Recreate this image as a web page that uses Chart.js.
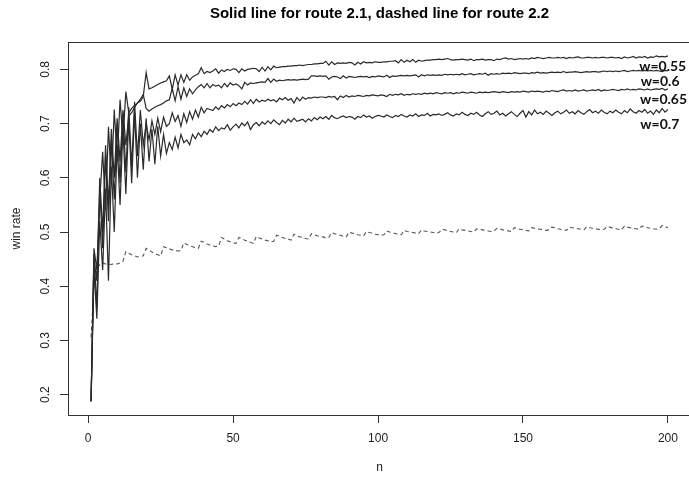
<!DOCTYPE html>
<html>
<head>
<meta charset="utf-8">
<script src="https://cdn.jsdelivr.net/npm/chart.js@4.4.1/dist/chart.umd.min.js"></script>
<style>
  html, body { margin: 0; padding: 0; background: #fff; overflow: hidden; }
  #wrap { width: 700px; height: 487px; }
</style>
</head>
<body>
<div id="wrap"><canvas id="c" width="700" height="487"></canvas></div>
<script>
// Number of games n = 1..200
const nValues = Array.from({ length: 200 }, (_, i) => i + 1);

// Win rate for route 2.1 at each weight w
const winW055 = [
  0.188, 0.470, 0.430, 0.560, 0.648, 0.540, 0.694, 0.590, 0.726, 0.630,
  0.744, 0.670, 0.759, 0.720, 0.728, 0.733, 0.738, 0.741, 0.750, 0.794,
  0.764, 0.766, 0.769, 0.772, 0.775, 0.777, 0.779, 0.788, 0.763, 0.790,
  0.771, 0.790, 0.776, 0.790, 0.780, 0.786, 0.789, 0.792, 0.803, 0.792,
  0.796, 0.794, 0.797, 0.801, 0.793, 0.799, 0.796, 0.800, 0.798, 0.801,
  0.800, 0.794, 0.801, 0.797, 0.800, 0.801, 0.802, 0.801, 0.796, 0.804,
  0.797, 0.805, 0.799, 0.806, 0.803, 0.804, 0.805, 0.805, 0.806, 0.806,
  0.807, 0.807, 0.808, 0.807, 0.808, 0.809, 0.809, 0.810, 0.810, 0.811,
  0.811, 0.815, 0.808, 0.814, 0.809, 0.812, 0.811, 0.812, 0.811, 0.813,
  0.812, 0.808, 0.813, 0.810, 0.814, 0.812, 0.813, 0.812, 0.814, 0.813,
  0.813, 0.814, 0.814, 0.815, 0.815, 0.816, 0.812, 0.818, 0.813, 0.817,
  0.814, 0.818, 0.813, 0.817, 0.815, 0.816, 0.817, 0.817, 0.818, 0.818,
  0.819, 0.818, 0.819, 0.820, 0.818, 0.817, 0.818, 0.818, 0.819, 0.818,
  0.817, 0.819, 0.816, 0.818, 0.818, 0.819, 0.817, 0.818, 0.818, 0.816,
  0.819, 0.818, 0.820, 0.821, 0.819, 0.820, 0.818, 0.819, 0.820, 0.819,
  0.820, 0.819, 0.821, 0.820, 0.822, 0.821, 0.820, 0.821, 0.822, 0.821,
  0.821, 0.822, 0.821, 0.822, 0.820, 0.822, 0.821, 0.822, 0.823, 0.821,
  0.821, 0.822, 0.822, 0.821, 0.822, 0.821, 0.822, 0.822, 0.821, 0.822,
  0.822, 0.821, 0.822, 0.820, 0.823, 0.821, 0.822, 0.824, 0.821, 0.823,
  0.822, 0.824, 0.821, 0.823, 0.822, 0.825, 0.823, 0.824, 0.823, 0.825
];

const winW060 = [
  0.188, 0.450, 0.410, 0.600, 0.500, 0.660, 0.550, 0.690, 0.600, 0.710,
  0.630, 0.725, 0.660, 0.714, 0.720, 0.730, 0.738, 0.745, 0.754, 0.728,
  0.723, 0.727, 0.730, 0.733, 0.735, 0.738, 0.742, 0.744, 0.765, 0.742,
  0.768, 0.745, 0.766, 0.750, 0.764, 0.755, 0.762, 0.768, 0.772, 0.766,
  0.774, 0.766, 0.772, 0.769, 0.771, 0.766, 0.774, 0.768, 0.775, 0.771,
  0.773, 0.770, 0.764, 0.776, 0.771, 0.775, 0.774, 0.775, 0.776, 0.777,
  0.776, 0.783, 0.776, 0.782, 0.778, 0.780, 0.779, 0.780, 0.781, 0.780,
  0.781, 0.780, 0.781, 0.782, 0.781, 0.782, 0.788, 0.788, 0.787, 0.788,
  0.787, 0.788, 0.782, 0.786, 0.787, 0.786, 0.783, 0.788, 0.784, 0.787,
  0.786, 0.785, 0.786, 0.787, 0.786, 0.787, 0.785, 0.787, 0.786, 0.788,
  0.787, 0.786, 0.789, 0.785, 0.788, 0.787, 0.788, 0.789, 0.788, 0.789,
  0.788, 0.789, 0.790, 0.786, 0.790, 0.788, 0.790, 0.789, 0.790, 0.789,
  0.790, 0.789, 0.791, 0.790, 0.791, 0.790, 0.791, 0.790, 0.792, 0.790,
  0.791, 0.792, 0.790, 0.791, 0.792, 0.791, 0.793, 0.789, 0.792, 0.791,
  0.792, 0.791, 0.793, 0.792, 0.793, 0.792, 0.794, 0.793, 0.792, 0.793,
  0.793, 0.792, 0.794, 0.793, 0.795, 0.793, 0.794, 0.793, 0.794, 0.795,
  0.794, 0.795, 0.794, 0.796, 0.794, 0.795, 0.795, 0.796, 0.795, 0.794,
  0.795, 0.796, 0.795, 0.796, 0.796, 0.795, 0.796, 0.797, 0.796, 0.797,
  0.796, 0.797, 0.796, 0.797, 0.798, 0.796, 0.797, 0.798, 0.797, 0.798,
  0.797, 0.798, 0.797, 0.798, 0.797, 0.798, 0.797, 0.796, 0.798, 0.797
];

const winW065 = [
  0.188, 0.460, 0.360, 0.580, 0.470, 0.640, 0.520, 0.670, 0.560, 0.700,
  0.590, 0.720, 0.610, 0.730, 0.620, 0.740, 0.640, 0.725, 0.660, 0.700,
  0.670, 0.705, 0.680, 0.710, 0.685, 0.712, 0.695, 0.700, 0.720, 0.704,
  0.715, 0.695, 0.718, 0.702, 0.722, 0.708, 0.725, 0.712, 0.730, 0.720,
  0.728, 0.726, 0.724, 0.731, 0.726, 0.733, 0.729, 0.735, 0.731, 0.737,
  0.733, 0.738, 0.735, 0.741, 0.736, 0.744, 0.737, 0.745, 0.740, 0.743,
  0.741, 0.745, 0.742, 0.744, 0.740, 0.747, 0.744, 0.748, 0.743, 0.746,
  0.738, 0.748, 0.742, 0.749, 0.745, 0.748, 0.747, 0.749, 0.748, 0.749,
  0.749, 0.748, 0.750, 0.749, 0.750, 0.744, 0.751, 0.748, 0.752, 0.749,
  0.751, 0.750, 0.752, 0.751, 0.750, 0.752, 0.751, 0.753, 0.752, 0.751,
  0.753, 0.752, 0.750, 0.754, 0.752, 0.754, 0.753, 0.755, 0.752, 0.754,
  0.753, 0.755, 0.754, 0.755, 0.754, 0.756, 0.755, 0.756, 0.755, 0.757,
  0.756, 0.755, 0.757, 0.756, 0.757, 0.755, 0.757, 0.756, 0.758, 0.757,
  0.756, 0.758, 0.757, 0.756, 0.758, 0.757, 0.758, 0.757, 0.758, 0.759,
  0.758, 0.757, 0.759, 0.758, 0.757, 0.759, 0.758, 0.759, 0.758, 0.760,
  0.759, 0.758, 0.760, 0.759, 0.760, 0.759, 0.758, 0.760, 0.759, 0.761,
  0.760, 0.759, 0.761, 0.762, 0.760, 0.761, 0.760, 0.762, 0.760, 0.761,
  0.762, 0.760, 0.761, 0.762, 0.761, 0.763, 0.760, 0.762, 0.761, 0.762,
  0.763, 0.762, 0.761, 0.763, 0.762, 0.764, 0.762, 0.763, 0.762, 0.764,
  0.763, 0.762, 0.764, 0.762, 0.763, 0.764, 0.763, 0.765, 0.762, 0.764
];

const winW070 = [
  0.188, 0.430, 0.340, 0.520, 0.430, 0.580, 0.410, 0.620, 0.500, 0.660,
  0.550, 0.690, 0.570, 0.710, 0.590, 0.720, 0.600, 0.700, 0.615, 0.710,
  0.630, 0.690, 0.625, 0.695, 0.640, 0.680, 0.645, 0.665, 0.652, 0.675,
  0.655, 0.680, 0.665, 0.670, 0.661, 0.680, 0.672, 0.683, 0.676, 0.686,
  0.680, 0.689, 0.684, 0.694, 0.687, 0.692, 0.690, 0.698, 0.688, 0.694,
  0.699, 0.692, 0.701, 0.696, 0.703, 0.689, 0.698, 0.702, 0.696, 0.703,
  0.699, 0.705, 0.700, 0.707, 0.702, 0.698, 0.706, 0.701, 0.708, 0.703,
  0.710, 0.704, 0.706, 0.708, 0.703, 0.709, 0.705, 0.711, 0.707, 0.712,
  0.709, 0.713, 0.708, 0.715, 0.711, 0.709, 0.712, 0.714, 0.711, 0.713,
  0.712, 0.708, 0.713, 0.711, 0.716, 0.712, 0.714, 0.710, 0.713, 0.715,
  0.714, 0.712, 0.716, 0.713, 0.711, 0.715, 0.713, 0.717, 0.714, 0.712,
  0.716, 0.714, 0.718, 0.713, 0.716, 0.715, 0.719, 0.714, 0.717, 0.716,
  0.718, 0.715, 0.717, 0.720, 0.716, 0.714, 0.718, 0.716, 0.721, 0.717,
  0.715, 0.719, 0.717, 0.721, 0.716, 0.713, 0.718, 0.722, 0.717, 0.719,
  0.723, 0.716, 0.719, 0.714, 0.718, 0.722, 0.717, 0.713, 0.719, 0.724,
  0.712, 0.722, 0.716, 0.725, 0.718, 0.721, 0.717, 0.723, 0.719, 0.715,
  0.720, 0.723, 0.718, 0.721, 0.725, 0.719, 0.722, 0.718, 0.724, 0.720,
  0.717, 0.722, 0.726, 0.720, 0.723, 0.719, 0.725, 0.721, 0.718, 0.723,
  0.720, 0.725, 0.721, 0.718, 0.724, 0.720, 0.727, 0.722, 0.719, 0.724,
  0.721, 0.726, 0.719, 0.723, 0.717, 0.725, 0.720, 0.728, 0.721, 0.726
];

// Win rate for route 2.2
const winRoute22 = [
  0.306, 0.402, 0.431, 0.440, 0.443, 0.441, 0.441, 0.440, 0.442, 0.441,
  0.443, 0.446, 0.464, 0.461, 0.458, 0.456, 0.454, 0.455, 0.456, 0.470,
  0.467, 0.463, 0.460, 0.458, 0.456, 0.473, 0.471, 0.469, 0.467, 0.466,
  0.465, 0.466, 0.480, 0.477, 0.475, 0.473, 0.471, 0.470, 0.483, 0.481,
  0.478, 0.476, 0.475, 0.473, 0.474, 0.490, 0.487, 0.484, 0.482, 0.480,
  0.479, 0.490, 0.488, 0.485, 0.483, 0.481, 0.479, 0.492, 0.489, 0.487,
  0.485, 0.484, 0.482, 0.483, 0.494, 0.492, 0.490, 0.488, 0.487, 0.485,
  0.496, 0.493, 0.491, 0.490, 0.488, 0.487, 0.497, 0.495, 0.493, 0.492,
  0.491, 0.489, 0.490, 0.499, 0.497, 0.495, 0.494, 0.492, 0.491, 0.500,
  0.498, 0.497, 0.495, 0.494, 0.493, 0.501, 0.499, 0.498, 0.496, 0.495,
  0.494, 0.495, 0.502, 0.500, 0.499, 0.497, 0.496, 0.495, 0.503, 0.501,
  0.500, 0.499, 0.498, 0.497, 0.504, 0.502, 0.501, 0.500, 0.499, 0.498,
  0.499, 0.505, 0.504, 0.502, 0.501, 0.500, 0.499, 0.506, 0.504, 0.503,
  0.502, 0.501, 0.500, 0.506, 0.505, 0.504, 0.503, 0.502, 0.501, 0.502,
  0.507, 0.506, 0.504, 0.503, 0.502, 0.501, 0.508, 0.506, 0.505, 0.504,
  0.503, 0.502, 0.508, 0.507, 0.506, 0.505, 0.504, 0.503, 0.504, 0.509,
  0.508, 0.506, 0.505, 0.504, 0.503, 0.509, 0.508, 0.507, 0.506, 0.505,
  0.504, 0.510, 0.508, 0.507, 0.506, 0.505, 0.504, 0.505, 0.510, 0.509,
  0.507, 0.506, 0.505, 0.504, 0.511, 0.509, 0.508, 0.507, 0.506, 0.505,
  0.511, 0.510, 0.508, 0.507, 0.506, 0.505, 0.506, 0.512, 0.510, 0.508
];

// Axis ticks
const xTicks = [0, 50, 100, 150, 200];
const yTicks = [0.2, 0.3, 0.4, 0.5, 0.6, 0.7, 0.8];

// Weight labels written at the right end of each route 2.1 curve
const weightLabels = ['w=0.55', 'w=0.6', 'w=0.65', 'w=0.7'];

const toPoints = arr => arr.map((v, i) => ({ x: nValues[i], y: v }));

// Plot region padded by 4% of the data range on each side
const allY = [].concat(winW055, winW060, winW065, winW070, winRoute22);
const yLo = Math.min(...allY), yHi = Math.max(...allY);
const yPad = (yHi - yLo) * 0.04;
const xPad = (nValues[nValues.length - 1] - nValues[0]) * 0.04;

const axisColor = '#333';

// Frame around the plot region
const framePlugin = {
  id: 'frame',
  afterDraw(chart) {
    const { ctx, chartArea: a } = chart;
    ctx.save();
    ctx.strokeStyle = axisColor;
    ctx.lineWidth = 1;
    ctx.strokeRect(Math.round(a.left) + 0.5, Math.round(a.top) + 0.5,
      Math.round(a.right - a.left), Math.round(a.bottom - a.top));
    ctx.restore();
  }
};

// Weight labels anchored in data coordinates
const labelAnchors = [
  { x: 198.2, y: 0.806 },
  { x: 197.3, y: 0.777 },
  { x: 198.5, y: 0.745 },
  { x: 197.2, y: 0.699 }
];
const weightLabelPlugin = {
  id: 'weightLabels',
  afterDatasetsDraw(chart) {
    const { ctx, scales: { x, y } } = chart;
    ctx.save();
    ctx.font = 'bold 14px Lato, "Open Sans", sans-serif';
    ctx.fillStyle = '#111';
    ctx.textAlign = 'center';
    ctx.textBaseline = 'middle';
    weightLabels.forEach((t, i) => {
      ctx.fillText(t, x.getPixelForValue(labelAnchors[i].x), y.getPixelForValue(labelAnchors[i].y));
    });
    ctx.restore();
  }
};

Chart.defaults.font.family = '"Liberation Sans", Arial, sans-serif';
Chart.defaults.font.size = 12;
Chart.defaults.color = '#222';

const solid = (label, data) => ({
  label, data: toPoints(data),
  borderColor: '#2b2b2b', borderWidth: 1.2,
  pointRadius: 0, tension: 0, fill: false
});

new Chart(document.getElementById('c'), {
  type: 'line',
  data: {
    datasets: [
      solid('w=0.55', winW055),
      solid('w=0.6', winW060),
      solid('w=0.65', winW065),
      solid('w=0.7', winW070),
      {
        label: 'route 2.2', data: toPoints(winRoute22),
        borderColor: '#555', borderWidth: 1.1, borderDash: [4, 3],
        pointRadius: 0, tension: 0, fill: false
      }
    ]
  },
  options: {
    responsive: false,
    animation: false,
    devicePixelRatio: 1,
    layout: { padding: { left: 0, right: 9, top: 0, bottom: 0 } },
    plugins: {
      legend: { display: false },
      tooltip: { enabled: false },
      title: {
        display: true,
        fullSize: false,
        text: 'Solid line for route 2.1, dashed line for route 2.2',
        font: { size: 15, weight: 'bold' },
        color: '#000',
        padding: { top: 5, bottom: 19 }
      }
    },
    scales: {
      x: {
        type: 'linear',
        min: nValues[0] - xPad,
        max: nValues[nValues.length - 1] + xPad,
        afterBuildTicks: s => { s.ticks = xTicks.map(v => ({ value: v })); },
        afterFit: s => { s.height = 72; },
        grid: { drawOnChartArea: false, drawTicks: true, tickLength: 8, color: axisColor },
        border: { display: true, color: axisColor },
        ticks: { padding: 8, color: '#222', maxRotation: 0, callback: v => String(v) },
        title: { display: true, text: 'n', color: '#222', font: { size: 12 }, padding: { top: 0, bottom: 12 } }
      },
      y: {
        type: 'linear',
        min: yLo - yPad,
        max: yHi + yPad,
        afterBuildTicks: s => { s.ticks = yTicks.map(v => ({ value: v })); },
        afterFit: s => { s.width = 68; },
        grid: { drawOnChartArea: false, drawTicks: true, tickLength: 8, color: axisColor },
        border: { display: true, color: axisColor },
        ticks: { padding: 6, color: '#222', minRotation: 90, maxRotation: 90, crossAlign: 'center',
                 callback: v => Number(v).toFixed(1) },
        title: { display: true, text: 'win rate', color: '#222', font: { size: 12 }, padding: { top: 9, bottom: 0 } }
      }
    }
  },
  plugins: [framePlugin, weightLabelPlugin]
});
</script>
</body>
</html>
